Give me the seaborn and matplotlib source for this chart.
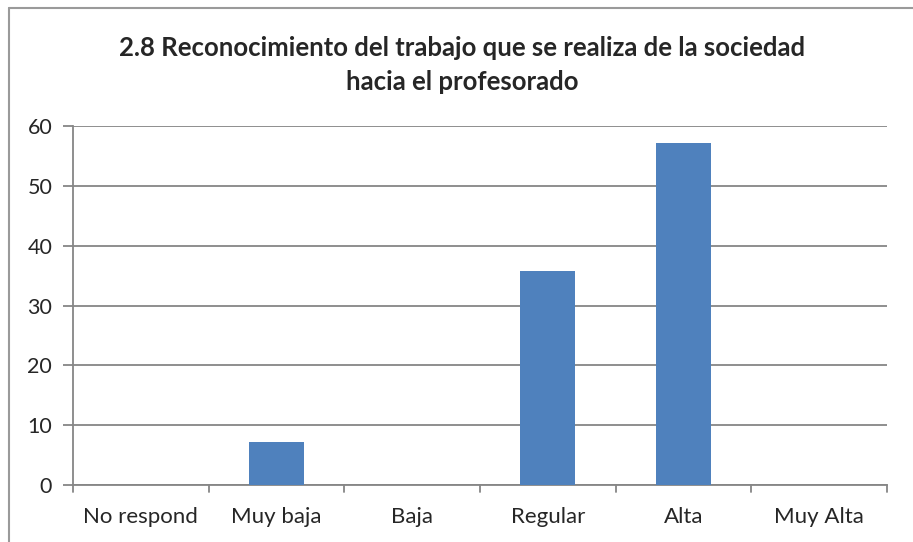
import matplotlib
matplotlib.use("Agg")
import matplotlib.pyplot as plt
import seaborn as sns
import pandas as pd
from matplotlib.lines import Line2D

categories = ["No respond", "Muy baja", "Baja", "Regular", "Alta", "Muy Alta"]
values = [0, 7.14, 0, 35.71, 57.14, 0]
yticks = [0, 10, 20, 30, 40, 50, 60]
title = "2.8 Reconocimiento del trabajo que se realiza de la sociedad\nhacia el profesorado"

sns.set_style("white")
plt.rcParams["font.family"] = ["Lato", "DejaVu Sans"]

df = pd.DataFrame({"cat": categories, "val": values})

W, H = 913, 542
fig = plt.figure(figsize=(W / 100, H / 100), dpi=100)
ax = fig.add_axes([73 / W, (H - 485) / H, (887 - 73) / W, (485 - 126) / H])

sns.barplot(data=df, x="cat", y="val", color="#4F81BD", width=0.405,
            saturation=1, ax=ax, zorder=3, linewidth=0)

grid_c = "#868686"
ax.set_ylim(0, 60)
ax.set_xlim(-0.5, len(categories) - 0.5)
ax.set_yticks(yticks)
ax.set_yticklabels([str(t) for t in yticks], fontsize=15.5)
ax.yaxis.grid(True, color=grid_c, linewidth=1.3, zorder=0)
ax.set_axisbelow(True)
for s in ["top", "right"]:
    ax.spines[s].set_visible(False)
for s in ["left", "bottom"]:
    ax.spines[s].set_color(grid_c)
    ax.spines[s].set_linewidth(1.3)
ax.set_xlabel("")
ax.set_ylabel("")

ax.set_xticks([i for i in range(len(categories))])
ax.set_xticklabels(categories, fontsize=16)
ax.tick_params(axis="x", length=0, pad=16)
ax.tick_params(axis="y", length=7, color=grid_c, width=1.3, pad=8, left=True)
for b in [i - 0.5 for i in range(len(categories) + 1)]:
    ax.plot([b, b], [0, -1.2], color=grid_c, lw=1.3, clip_on=False, zorder=4)

fig.text(462 / W, 1 - 65 / H, title, ha="center", va="center",
         fontsize=18.5, fontweight="bold", linespacing=1.5)

fig.add_artist(Line2D([9 / W, 9 / W], [0, 1 - 8 / H], color="#9a9a9a", lw=1.5))
fig.add_artist(Line2D([9 / W, 1], [1 - 8 / H, 1 - 8 / H], color="#9a9a9a", lw=1.5))

fig.savefig("out.png", dpi=100)
